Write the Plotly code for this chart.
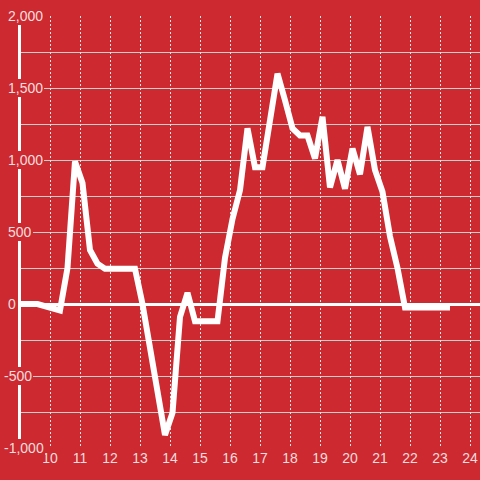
import plotly.graph_objects as go

# ---- data ----
hours = [9.0, 9.583, 10.333, 10.583, 10.833, 11.083, 11.333, 11.583, 11.833, 12.833,
         13.083, 13.333, 13.583, 13.833, 14.083, 14.333, 14.583, 14.833, 15.583, 15.833,
         16.083, 16.333, 16.583, 16.833, 17.083, 17.333, 17.583, 17.833, 18.083, 18.333,
         18.583, 18.833, 19.083, 19.333, 19.583, 19.833, 20.083, 20.333, 20.583, 20.833,
         21.083, 21.333, 21.583, 21.833, 23.333]
values = [0, 0, -45, 250, 990, 840, 375, 280, 245, 245,
          0, -310, -610, -910, -757, -90, 78, -120, -120, 320,
          590, 790, 1220, 950, 950, 1275, 1600, 1415, 1220, 1170,
          1170, 1010, 1300, 810, 1000, 800, 1080, 900, 1230, 930,
          780, 470, 250, -25, -25]
x_ticks = list(range(10, 25))
y_tick_vals = [2000, 1500, 1000, 500, 0, -500, -1000]
y_tick_text = ["2,000", "1,500", "1,000", "500", "0", "-500", "-1,000"]

# ---- style ----
BG = "#cc2a30"
TXT = "rgba(255,255,255,0.85)"
GRID = "#cfcfcf"
FONT = "Liberation Sans, Arial, sans-serif"
W, H = 480, 480
ML, MR, MT, MB = 21, 0, 16, 32
PW = W - ML - MR

fig = go.Figure(go.Scatter(
    x=hours, y=values, mode="lines",
    line=dict(color="white", width=6),
    hoverinfo="skip", showlegend=False))

annotations = []
for v, t in zip(y_tick_vals, y_tick_text):
    left_px = 3 if t.startswith("-") else 7
    annotations.append(dict(
        xref="paper", yref="y", x=(left_px - ML) / PW, y=v,
        xanchor="left", yanchor="middle", text=t, showarrow=False,
        bgcolor=BG, borderpad=1, borderwidth=0,
        font=dict(family=FONT, size=14, color=TXT)))

fig.update_layout(
    width=W, height=H,
    margin=dict(l=ML, r=MR, t=MT, b=MB),
    paper_bgcolor=BG, plot_bgcolor=BG,
    font=dict(family=FONT, size=14, color=TXT),
    annotations=annotations,
    xaxis=dict(
        range=[9.0333, 24.3333], tickvals=x_ticks, ticktext=[str(v) for v in x_ticks],
        showgrid=True, gridcolor="#e6e6e6", griddash="2px,2px", gridwidth=1,
        zeroline=False, showline=False, ticks="",
        tickfont=dict(family=FONT, size=14, color=TXT)),
    yaxis=dict(
        range=[-1000, 2000], tickvals=[], dtick=500,
        showgrid=True, gridcolor=GRID, gridwidth=1,
        minor=dict(dtick=250, showgrid=True, gridcolor=GRID, gridwidth=1),
        zeroline=True, zerolinecolor="white", zerolinewidth=3,
        showline=True, linecolor="white", linewidth=3,
        showticklabels=False, ticks=""),
)

fig.write_html(
    "out.html",
    config={"displayModeBar": False},
    post_script="document.body.style.margin='0';document.body.style.background='%s';" % BG,
)
